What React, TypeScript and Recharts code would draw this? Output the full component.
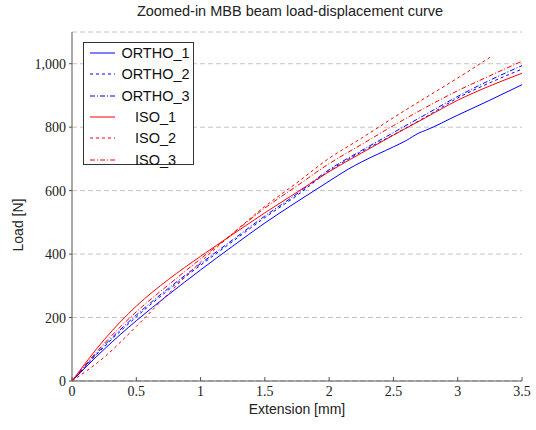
import { LineChart, Line, XAxis, YAxis, CartesianGrid } from 'recharts';

const xTicks = [0, 0.5, 1, 1.5, 2, 2.5, 3, 3.5];
const yTicks = [0, 200, 400, 600, 800, 1000];

// extension [mm] sample points
const commonX = [0, 0.25, 0.5, 0.75, 1, 1.25, 1.5, 1.75, 2, 2.25, 2.5, 2.75, 3, 3.25, 3.5];
const ortho1X = [0, 0.25, 0.5, 0.75, 1, 1.25, 1.5, 1.75, 2, 2.15, 2.25, 2.5, 2.6, 2.7, 2.75, 3, 3.25, 3.5];
const iso2X = [0, 0.25, 0.5, 0.75, 1, 1.25, 1.5, 1.75, 2, 2.25, 2.5, 2.75, 3, 3.25];

// load [N]
const ortho1 = [0, 100, 190, 272, 350, 425, 498, 565, 630, 668, 690, 738, 758, 782, 790, 838, 885, 934];
const ortho2 = [0, 108, 202, 287, 365, 440, 515, 585, 662, 722, 776, 832, 892, 940, 983];
const ortho3 = [0, 112, 208, 292, 370, 445, 520, 590, 666, 726, 783, 840, 897, 948, 994];
const iso1 = [0, 130, 236, 320, 393, 462, 530, 595, 660, 718, 775, 830, 885, 930, 970];
const iso2 = [0, 75, 172, 275, 375, 465, 550, 625, 702, 765, 830, 893, 955, 1020];
const iso3 = [0, 118, 218, 303, 385, 465, 545, 615, 685, 745, 805, 862, 915, 962, 1008];

const toPoints = (xs: number[], ys: number[]) => xs.map((x, i) => ({ x, y: ys[i] }));

const series = [
  { name: 'ORTHO_1', data: toPoints(ortho1X, ortho1), color: '#0000ff', dash: undefined },
  { name: 'ORTHO_2', data: toPoints(commonX, ortho2), color: '#0000ff', dash: '3 3' },
  { name: 'ORTHO_3', data: toPoints(commonX, ortho3), color: '#0000ff', dash: '5 2 1 2' },
  { name: 'ISO_1', data: toPoints(commonX, iso1), color: '#ff0000', dash: undefined },
  { name: 'ISO_2', data: toPoints(iso2X, iso2), color: '#ff0000', dash: '3 3' },
  { name: 'ISO_3', data: toPoints(commonX, iso3), color: '#ff0000', dash: '5 2 1 2' },
];

const sans = '"Liberation Sans", Arial, sans-serif';
const serif = '"Liberation Serif", "DejaVu Serif", serif';

// x ticks point into the plot, like pgfplots
function XTick(props: any) {
  const { x, y, payload } = props;
  const axisY = y - 5;
  return (
    <g>
      <line x1={x} x2={x} y1={axisY} y2={axisY - 4} stroke="#555" />
      <text x={x} y={y} dy="0.71em" textAnchor="middle" fill="#222" fontFamily={serif} fontSize={14}>
        {payload.value}
      </text>
    </g>
  );
}

export default function App() {
  return (
    <div style={{ position: 'absolute', left: 0, top: 0, width: 536, height: 430, background: '#fff' }}>
      <div style={{ position: 'absolute', left: 0, width: 580, top: 3, textAlign: 'center', fontFamily: sans, fontSize: 14.5, color: '#222' }}>
        Zoomed-in MBB beam load-displacement curve
      </div>
      <LineChart width={536} height={430} margin={{ top: 32, right: 14, bottom: 19, left: 12 }}>
        <CartesianGrid horizontal vertical={false} stroke="#c4c4c4" strokeDasharray="5 3" />
        <XAxis
          dataKey="x"
          type="number"
          domain={[0, 3.5]}
          ticks={xTicks}
          height={30}
          tickSize={3}
          tickMargin={2}
          tickLine={false}
          stroke="#555"
          tick={<XTick />}
          allowDuplicatedCategory={false}
        />
        <YAxis
          type="number"
          domain={[0, 1100]}
          ticks={yTicks}
          width={60}
          tickSize={3}
          tickMargin={3}
          stroke="#555"
          tick={{ fill: '#222', fontFamily: serif, fontSize: 14 }}
          tickFormatter={(v: number) => v.toLocaleString('en-US')}
        />
        {series.map((s) => (
          <Line
            key={s.name}
            data={s.data}
            dataKey="y"
            name={s.name}
            type="monotone"
            stroke={s.color}
            strokeWidth={1}
            strokeDasharray={s.dash}
            dot={false}
            isAnimationActive={false}
          />
        ))}
      </LineChart>
      <div style={{ position: 'absolute', left: 0, width: 594, top: 401, textAlign: 'center', fontFamily: sans, fontSize: 14, color: '#222' }}>
        Extension [mm]
      </div>
      <div
        style={{
          position: 'absolute',
          left: 18,
          top: 225,
          transform: 'translate(-50%, -50%) rotate(-90deg)',
          whiteSpace: 'nowrap',
          fontFamily: sans,
          fontSize: 14,
          color: '#222',
        }}
      >
        Load [N]
      </div>
      <div
        style={{
          position: 'absolute',
          left: 83,
          top: 42,
          width: 111,
          height: 123,
          border: '1px solid #333',
          background: '#fff',
          boxSizing: 'border-box',
        }}
      >
        {series.map((s, i) => (
          <div
            key={s.name}
            style={{ position: 'absolute', left: 0, right: 0, top: 0 + i * 21.3, height: 20, display: 'flex', alignItems: 'center' }}
          >
            <svg width={34} height={10} style={{ flex: 'none' }}>
              <line x1={6} y1={5} x2={31} y2={5} stroke={s.color} strokeWidth={1} strokeDasharray={s.dash} />
            </svg>
            <span style={{ flex: 1, textAlign: 'center', fontFamily: sans, fontSize: 14.5, color: '#111' }}>{s.name}</span>
          </div>
        ))}
      </div>
    </div>
  );
}
